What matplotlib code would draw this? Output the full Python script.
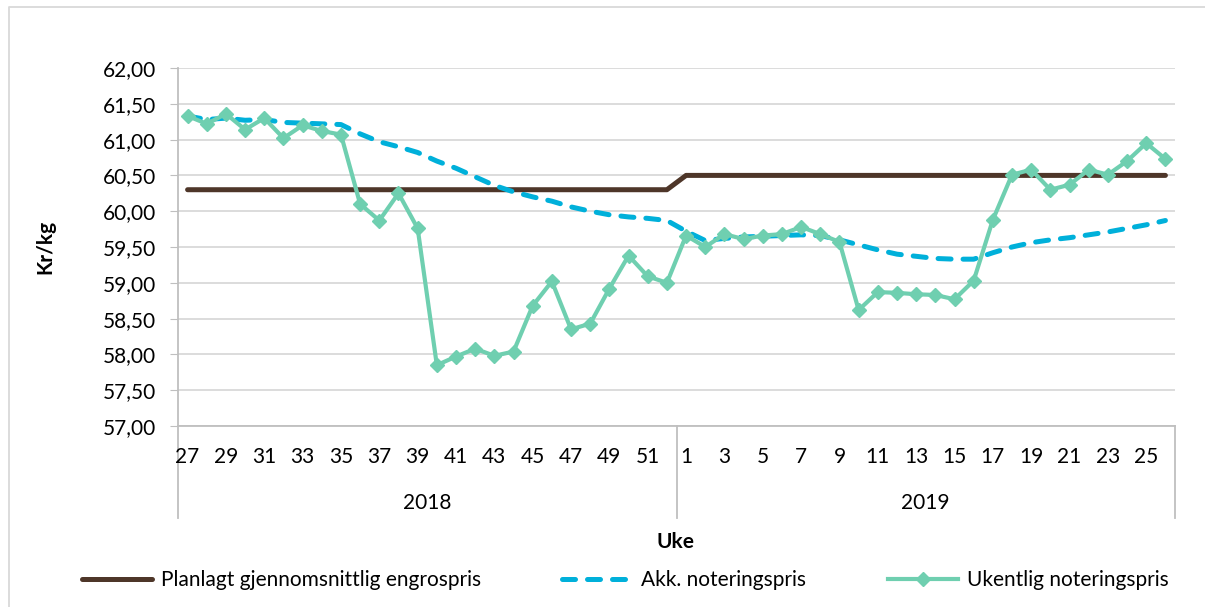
import numpy as np
import matplotlib
matplotlib.use('Agg')
import matplotlib.pyplot as plt
from matplotlib.lines import Line2D

plt.rcParams['font.family'] = ['Lato', 'DejaVu Sans']

# weeks 27-52 of 2018 and 1-26 of 2019
weeks_2018 = list(range(27, 53))
weeks_2019 = list(range(1, 27))
weeks = weeks_2018 + weeks_2019
years = ['2018', '2019']

planlagt = [60.30] * 26 + [60.50] * 26

akk = [61.33, 61.28, 61.30, 61.27, 61.28, 61.24, 61.23, 61.22, 61.21, 61.08,
       60.97, 60.90, 60.82, 60.70, 60.60, 60.48, 60.36, 60.27, 60.20, 60.14,
       60.06, 60.00, 59.95, 59.92, 59.90, 59.87,
       59.72, 59.59, 59.62, 59.64, 59.65, 59.66, 59.67, 59.66, 59.60, 59.53,
       59.46, 59.40, 59.37, 59.34, 59.33, 59.33, 59.42, 59.50, 59.56, 59.60,
       59.63, 59.67, 59.71, 59.76, 59.81, 59.87]

ukentlig = [61.33, 61.22, 61.36, 61.14, 61.30, 61.02, 61.20, 61.12, 61.07, 60.10,
            59.87, 60.25, 59.76, 57.85, 57.97, 58.08, 57.98, 58.04, 58.68, 59.02,
            58.35, 58.43, 58.92, 59.38, 59.09, 59.00,
            59.66, 59.50, 59.68, 59.61, 59.66, 59.68, 59.78, 59.68, 59.57, 58.62,
            58.87, 58.86, 58.84, 58.83, 58.77, 59.03, 59.88, 60.51, 60.58, 60.30,
            60.37, 60.58, 60.51, 60.70, 60.95, 60.73]

brown = '#4E3629'
blue = '#00B0DA'
green = '#6FCFB0'
gray = '#BFBFBF'
fs = 15

W, H = 1205, 607
fig = plt.figure(figsize=(W / 100, H / 100), dpi=100)
ax = fig.add_axes([178 / W, 1 - 426 / H, (1175 - 178) / W, (426 - 68) / H])

x = np.arange(len(weeks))
ax.plot(x, planlagt, color=brown, lw=3.6, solid_capstyle='round',
        label='Planlagt gjennomsnittlig engrospris', zorder=3)
ax.plot(x, akk, color=blue, lw=3.6, linestyle=(0, (2.6, 2.4)), dash_capstyle='round',
        label='Akk. noteringspris', zorder=4)
ax.plot(x, ukentlig, color=green, lw=3.0, marker='D', markersize=7.5,
        label='Ukentlig noteringspris', zorder=5)

ax.set_xlim(-0.5, len(weeks) - 0.5)
ax.set_ylim(57, 62)
ax.set_yticks(np.arange(57, 62.01, 0.5))
ax.set_yticklabels([f'{v:.2f}'.replace('.', ',') for v in np.arange(57, 62.01, 0.5)], fontsize=fs)
ax.tick_params(axis='y', length=6, color=gray, pad=10)
ax.grid(axis='y', color='#D9D9D9', lw=1.3)
ax.set_axisbelow(True)
for s in ['top', 'right']:
    ax.spines[s].set_visible(False)
ax.spines['left'].set_color(gray)
ax.spines['bottom'].set_color(gray)
ax.spines['left'].set_linewidth(1.3)
ax.spines['bottom'].set_linewidth(1.3)
ax.set_xticks([])

# category axis: weeks and years
xt = ax.get_xaxis_transform()
for i in range(0, len(weeks), 2):
    ax.text(x[i], -(457 - 426) / 358, str(weeks[i]), transform=xt,
            ha='center', va='center', fontsize=fs)
n18 = len(weeks_2018)
ax.text((n18 - 1) / 2, -(503 - 426) / 358, years[0], transform=xt,
        ha='center', va='center', fontsize=fs)
ax.text(n18 + (len(weeks_2019) - 1) / 2, -(503 - 426) / 358, years[1], transform=xt,
        ha='center', va='center', fontsize=fs)
for xv in [-0.5, n18 - 0.5, len(weeks) - 0.5]:
    ax.add_line(Line2D([xv, xv], [0, -(518 - 426) / 358], transform=xt,
                       color=gray, lw=1.3, clip_on=False))

fig.text(676 / W, 1 - 542 / H, 'Uke', ha='center', va='center', fontsize=fs, fontweight='bold')
fig.text(45 / W, 1 - 247 / H, 'Kr/kg', ha='center', va='center', fontsize=fs,
         fontweight='bold', rotation=90)

fig.legend(loc='center', bbox_to_anchor=(625 / W, 1 - 580 / H), ncol=3, frameon=False,
           fontsize=fs, handlelength=3.4, handletextpad=0.4, columnspacing=3.9)

# chart frame
fig.add_artist(Line2D([9 / W, 9 / W, 1], [0, 1 - 7 / H, 1 - 7 / H], color='#D9D9D9', lw=1.3))

fig.savefig('out.png', dpi=100)
